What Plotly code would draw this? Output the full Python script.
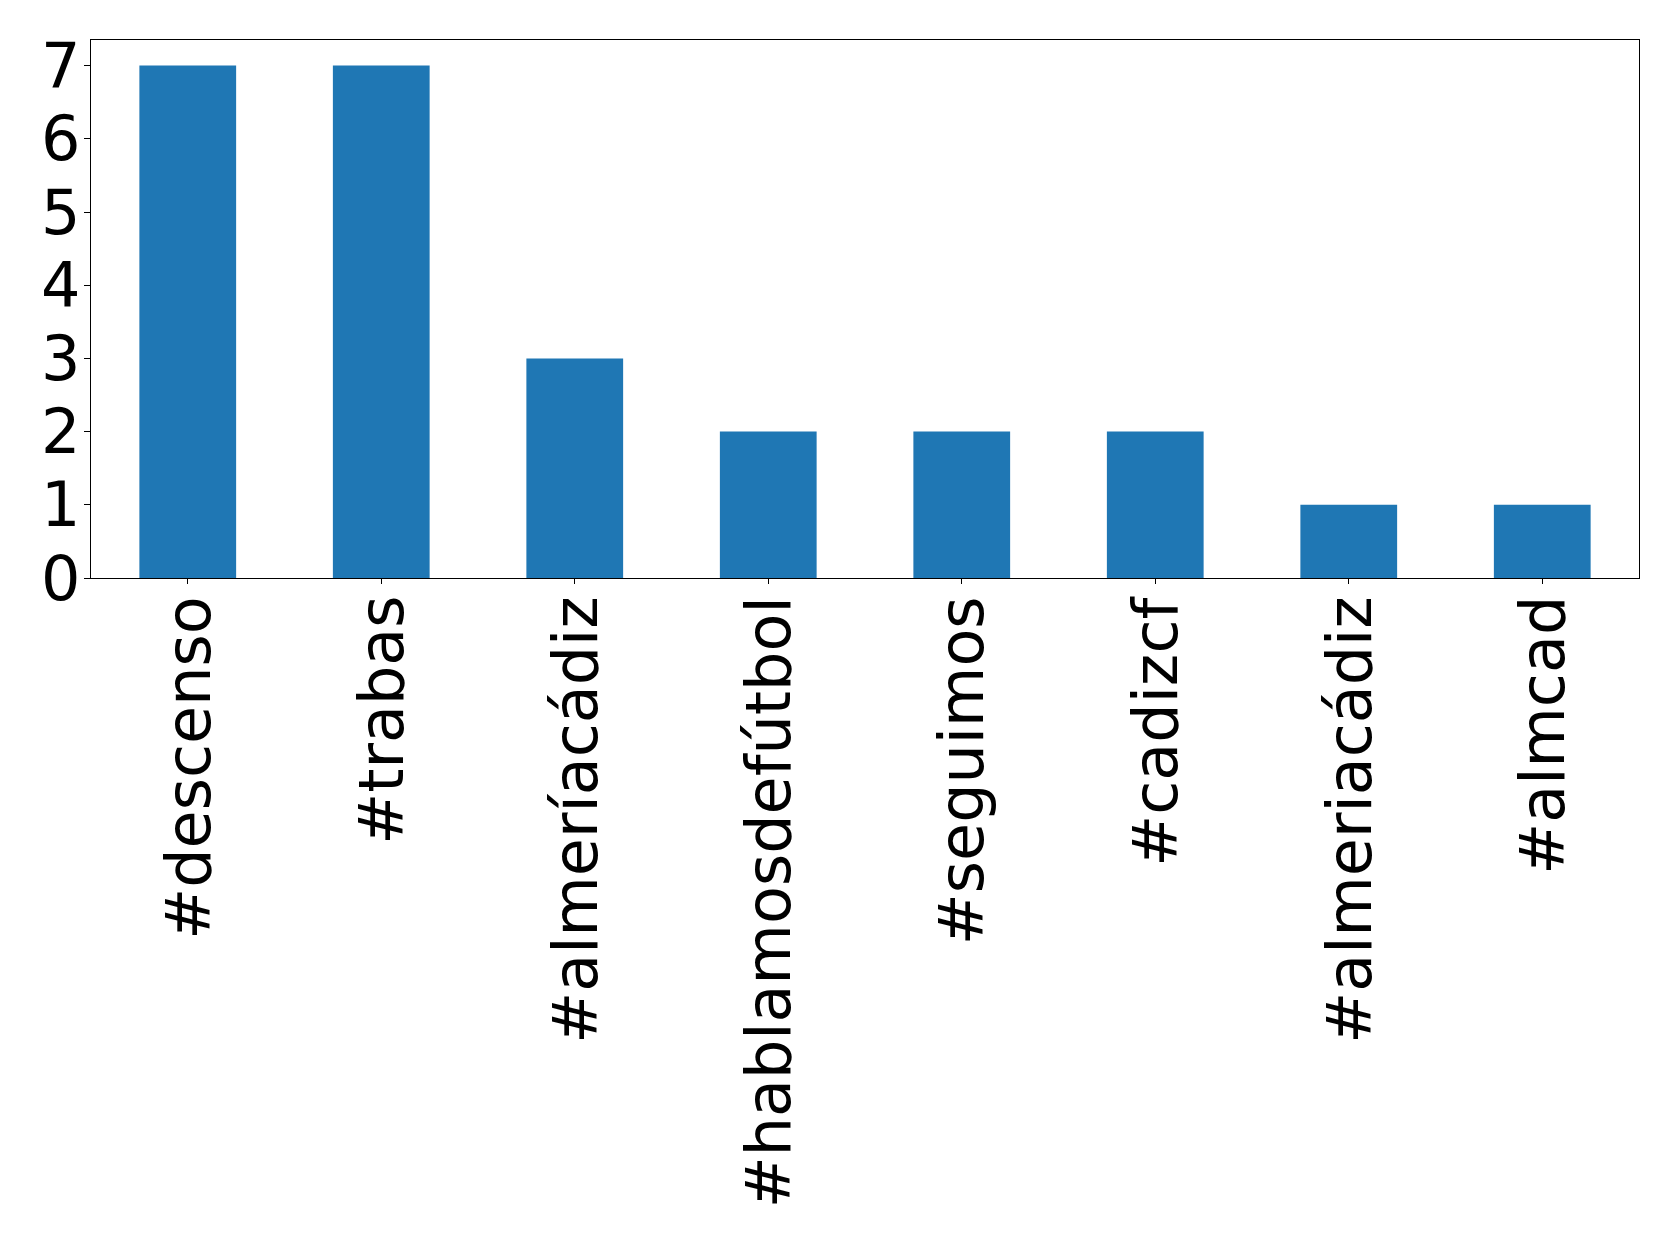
import plotly.graph_objects as go

categories = ["#descenso", "#trabas", "#almeríacádiz", "#hablamosdefútbol",
              "#seguimos", "#cadizcf", "#almeriacádiz", "#almcad"]
counts = [7, 7, 3, 2, 2, 2, 1, 1]
y_ticks = [0, 1, 2, 3, 4, 5, 6, 7]

FONT = dict(family="DejaVu Sans", size=62, color="black")

fig = go.Figure(go.Bar(
    x=list(range(len(categories))), y=counts,
    width=0.5, marker=dict(color="#1f77b4", line=dict(width=0)),
))

for i, lab in enumerate(categories):
    fig.add_annotation(
        x=i, y=0, xref="x", yref="y", text=lab, showarrow=False,
        textangle=-90, xanchor="center", yanchor="top", yshift=-17,
        font=FONT, borderpad=0,
    )

for v in y_ticks:
    fig.add_annotation(
        x=0, y=v, xref="paper", yref="y", text=str(v), showarrow=False,
        xanchor="right", yanchor="middle", xshift=-10,
        font=FONT, borderpad=0,
    )

fig.update_layout(
    width=1671, height=1236,
    margin=dict(l=83, r=40, t=32, b=666),
    paper_bgcolor="white", plot_bgcolor="white",
    font=FONT,
    showlegend=False,
)
fig.update_xaxes(
    range=[-0.5, 7.5], tickmode="array",
    tickvals=list(range(len(categories))), showticklabels=False,
    ticks="outside", ticklen=5, tickwidth=1, tickcolor="black",
    showline=True, linecolor="black", linewidth=1, mirror=True,
    showgrid=False, zeroline=False, automargin=False,
)
fig.update_yaxes(
    range=[0, 7.35], tickmode="array", tickvals=y_ticks, showticklabels=False,
    ticks="outside", ticklen=6, tickwidth=1, tickcolor="black",
    showline=True, linecolor="black", linewidth=1, mirror=True,
    showgrid=False, zeroline=False, automargin=False,
)
fig.write_html("out.html")
